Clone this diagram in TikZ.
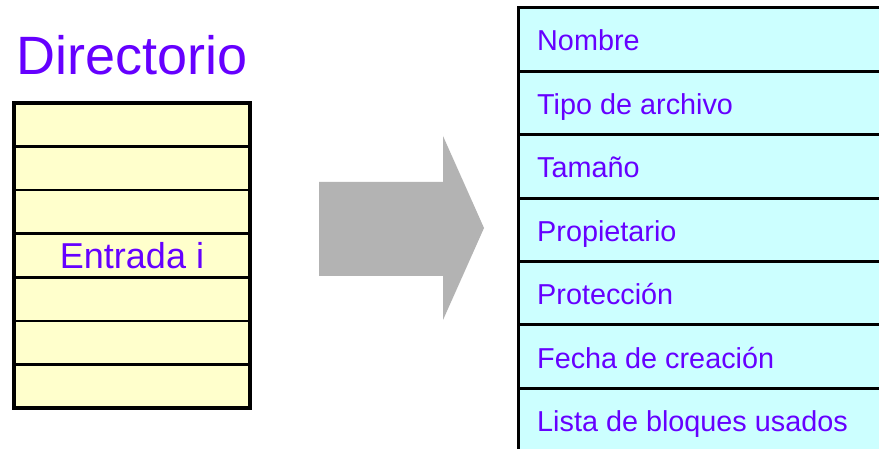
\documentclass[tikz,border=0pt]{standalone}
\usepackage{fontspec}
\setmainfont{Liberation Sans}
\definecolor{txt}{HTML}{6600FF}
\definecolor{yel}{HTML}{FFFFCC}
\definecolor{cya}{HTML}{CCFFFF}
\definecolor{arr}{HTML}{B3B3B3}
\begin{document}
\begin{tikzpicture}[x=1pt,y=-1pt,
  lrow/.style={draw=black, line width=2.5pt, fill=yel, minimum width=236pt, minimum height=43.57pt,
    inner sep=0pt, outer sep=0pt, anchor=north west},
  rrow/.style={draw=black, line width=3pt, fill=cya, minimum width=390pt, minimum height=63.4pt,
    inner sep=0pt, outer sep=0pt, anchor=north west},
  rlab/.style={anchor=base west, text=txt, font=\fontsize{28.8}{28.8}\selectfont, inner sep=0pt},
  title/.style={anchor=base west, text=txt, font=\fontsize{54}{54}\selectfont, inner sep=0pt},
  bigarrow/.style={fill=arr, draw=none}]
\useasboundingbox (0,0) rectangle (879,449);
\clip (0,0) rectangle (879,449);
\fill[white] (0,0) rectangle (879,449);

% title
\node[title] (dir) at (16,75) {Directorio};

% left table
\foreach \i in {1,...,7}{
  \node[lrow] (l\i) at (14,{103+(\i-1)*43.57}) {};
}
\node[text=txt, font=\fontsize{36}{36}\selectfont, inner sep=0pt] (ent) at (l4.center) {Entrada i};
\draw[line width=4pt] (l1.north west) rectangle (l7.south east);

% arrow
\fill[bigarrow] (319,182) -- (443,182) -- (443,136) -- (484,228) -- (443,320) -- (443,276) -- (319,276) -- cycle;

% right table
\foreach \i in {1,...,7}{
  \node[rrow] (r\i) at (518,{8+(\i-1)*63.4}) {};
}
\node[rlab] (t1) at ([xshift=19pt,yshift=-43pt]r1.north west) {Nombre};
\node[rlab] (t2) at ([xshift=19pt,yshift=-43pt]r2.north west) {Tipo de archivo};
\node[rlab] (t3) at ([xshift=19pt,yshift=-43pt]r3.north west) {Tamaño};
\node[rlab] (t4) at ([xshift=19pt,yshift=-43pt]r4.north west) {Propietario};
\node[rlab] (t5) at ([xshift=19pt,yshift=-43pt]r5.north west) {Protección};
\node[rlab] (t6) at ([xshift=19pt,yshift=-43pt]r6.north west) {Fecha de creación};
\node[rlab] (t7) at ([xshift=19pt,yshift=-43pt]r7.north west) {Lista de bloques usados};
\end{tikzpicture}
\end{document}
